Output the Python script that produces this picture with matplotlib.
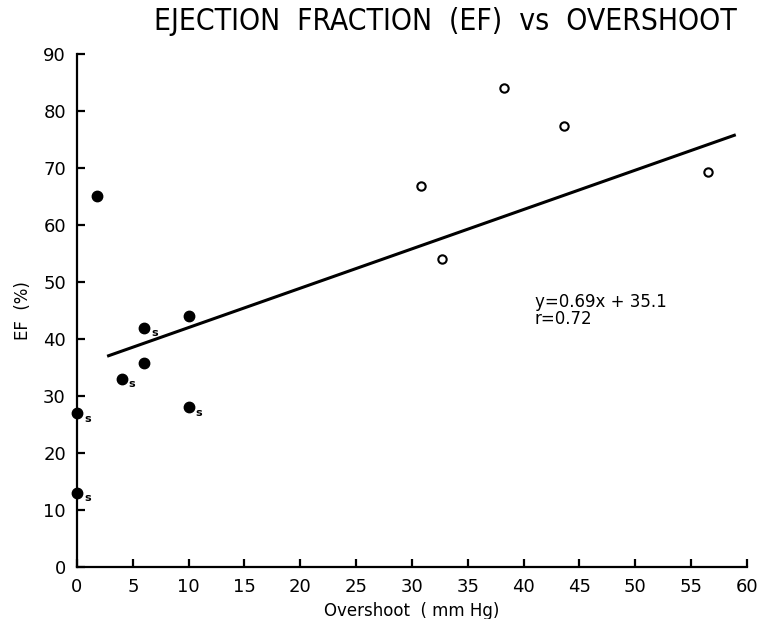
import numpy as np
import matplotlib.pyplot as plt

# filled points (s = marked with subscript s)
filled_x = [0, 0, 1.8, 4, 6, 6, 10, 10]
filled_y = [13, 27, 65, 33, 42, 35.7, 44, 28]
filled_s = [True, True, False, True, True, False, False, True]

# open points
open_x = [30.8, 32.7, 38.2, 43.6, 56.5]
open_y = [66.8, 54, 84, 77.3, 69.2]

# regression line y = 0.69x + 35.1
slope = 0.69
intercept = 35.1
line_x = np.array([2.7, 59])

fig = plt.figure(figsize=(7.57, 6.19), dpi=100)
ax = fig.add_axes([0.1017, 0.084, 0.885, 0.829])

ax.plot(line_x, slope * line_x + intercept, 'k-', lw=2.2, solid_capstyle='butt')
ax.plot(filled_x, filled_y, 'ko', ms=7.5, clip_on=False, zorder=3)
ax.plot(open_x, open_y, 'o', mfc='white', mec='k', mew=1.5, ms=6, zorder=3)

for x, y, s in zip(filled_x, filled_y, filled_s):
    if s:
        ax.annotate('s', (x, y), xytext=(5, -4), textcoords='offset points',
                    fontsize=8, fontweight='bold', ha='left', va='center')

ax.text(41, 45, 'y=0.69x + 35.1\nr=0.72', fontsize=12, va='center', ha='left',
        linespacing=0.95)

ax.set_xlim(0, 60)
ax.set_ylim(0, 90)
ax.set_xticks(range(0, 61, 5))
ax.set_yticks(range(0, 91, 10))
ax.spines['top'].set_visible(False)
ax.spines['right'].set_visible(False)
for sp in ['left', 'bottom']:
    ax.spines[sp].set_linewidth(1.6)
ax.tick_params(direction='in', length=6, width=1.6, labelsize=13, pad=8)

ax.set_xlabel('Overshoot  ( mm Hg)', fontsize=12, labelpad=4)
ax.set_ylabel('EF  (%)', fontsize=12, labelpad=8)
fig.text(0.588, 0.965, 'EJECTION  FRACTION  (EF)  vs  OVERSHOOT', fontsize=21.5,
         ha='center', va='center', fontstretch='condensed')

fig.savefig('out.png', dpi=100)
